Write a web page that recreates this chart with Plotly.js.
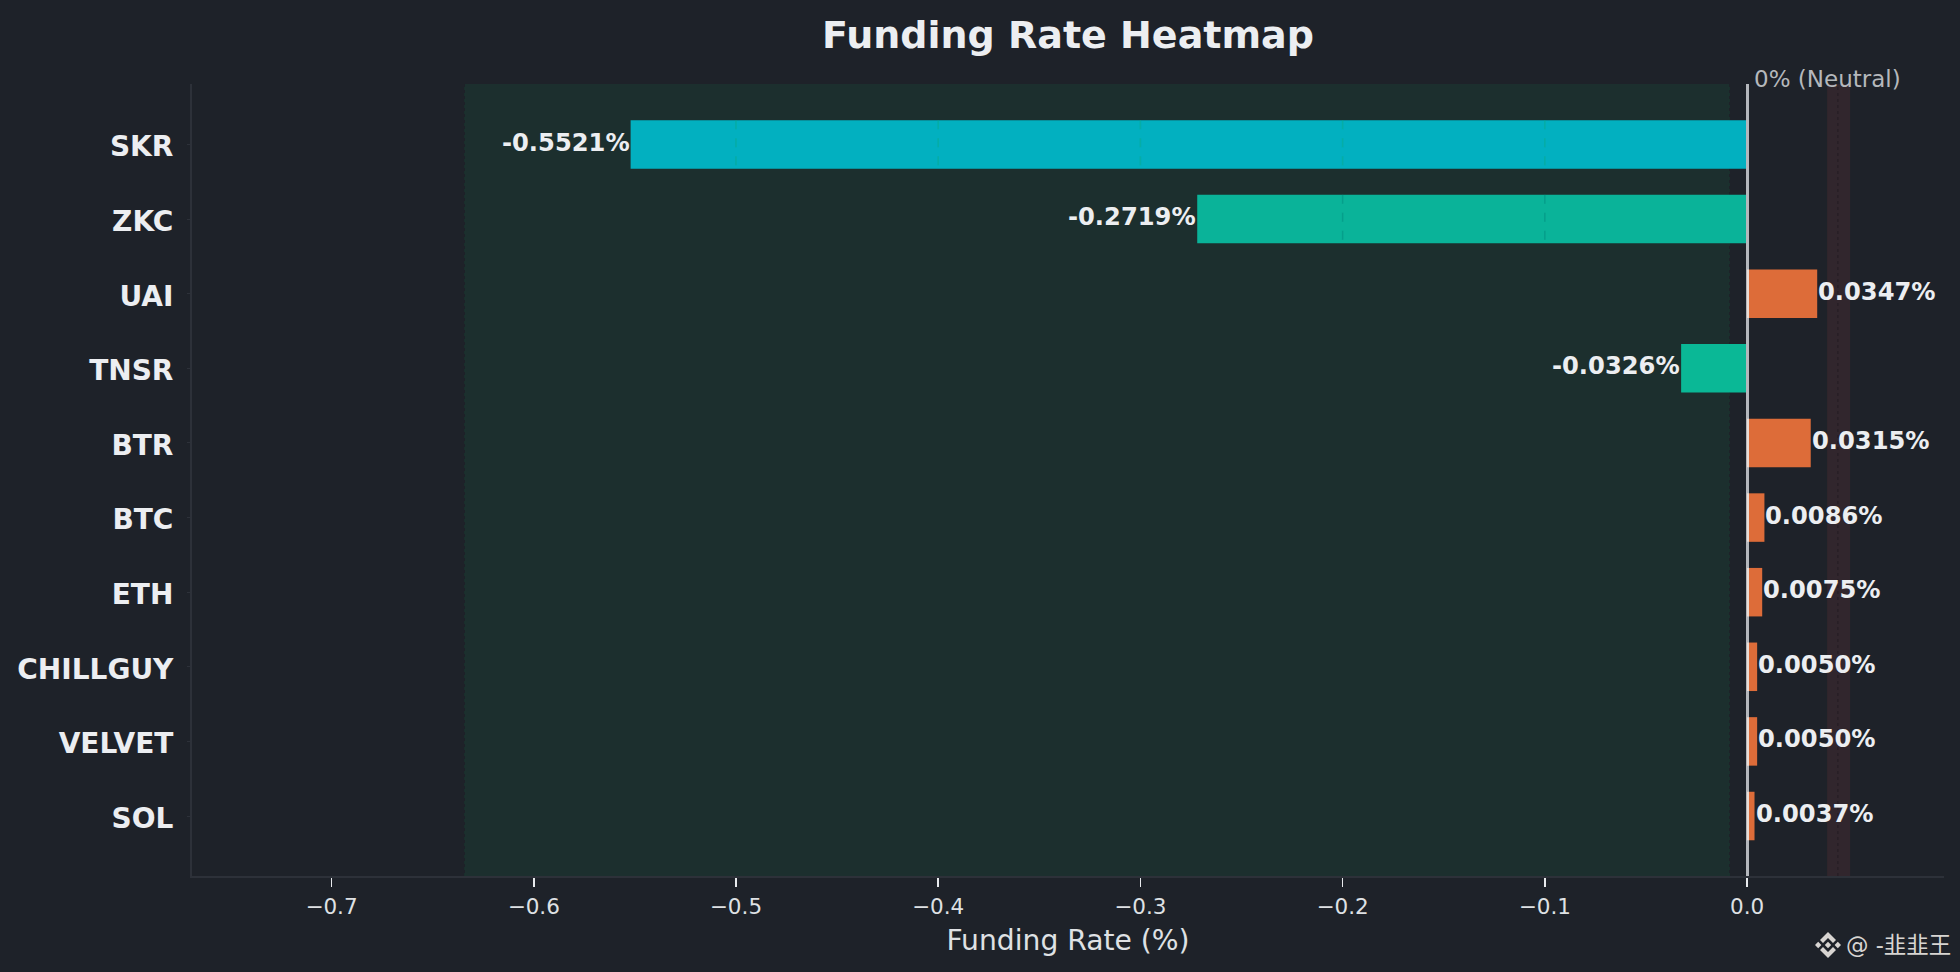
<!DOCTYPE html>
<html><head><meta charset="utf-8">
<script src="https://cdn.plot.ly/plotly-3.0.1.min.js"></script>
<style>html,body{margin:0;padding:0;background:#1e2229;overflow:hidden}</style>
</head><body><div id="chart" style="width:1960px;height:972px"></div>
<script>
const symbols = ['SKR','ZKC','UAI','TNSR','BTR','BTC','ETH','CHILLGUY','VELVET','SOL'];
const rates = [-0.5521,-0.2719,0.0347,-0.0326,0.0315,0.0086,0.0075,0.0050,0.0050,0.0037];
const barColors = ['#02b0c0','#0ab399','#dd6c39','#0ab896','#dd6c39','#dd6c39','#dd6c39','#dd6c39','#dd6c39','#dd6c39'];
const gridColors = ['rgba(10,170,140,0.5)','rgba(0,140,125,0.5)'];
const xTicks = [-0.7,-0.6,-0.5,-0.4,-0.3,-0.2,-0.1,0.0];
const xRange = [-0.769,0.0974];
const yRange = [9.804,-0.811];
const greenBand = [-0.634,-0.0089];
const redBand = [0.0396,0.0510];
const redLine = 0.0449;
const BAR = 0.65;
const FONT = '"DejaVu Sans", sans-serif';
const TEXT = '#eceef1';

const shapes = [
  {type:'rect',layer:'below',xref:'x',yref:'paper',x0:greenBand[0],x1:greenBand[1],y0:0,y1:1,fillcolor:'#1c2f2e',line:{width:0}},
  {type:'rect',layer:'below',xref:'x',yref:'paper',x0:redBand[0],x1:redBand[1],y0:0,y1:1,fillcolor:'#31262d',line:{width:0}},
  {type:'line',layer:'below',xref:'x',yref:'paper',x0:greenBand[0],x1:greenBand[0],y0:0,y1:1,line:{color:'#1b332f',width:1.5,dash:'dot'}},
  {type:'line',layer:'below',xref:'x',yref:'paper',x0:greenBand[1],x1:greenBand[1],y0:0,y1:1,line:{color:'#1b332f',width:1.5,dash:'dot'}},
  {type:'line',layer:'below',xref:'x',yref:'paper',x0:redLine,x1:redLine,y0:0,y1:1,line:{color:'#281f26',width:1.5,dash:'dot'}}
];
rates.forEach((v,i)=>{
  xTicks.forEach(t=>{
    if(t<0 && v<t){
      shapes.push({type:'line',layer:'above',xref:'x',yref:'y',x0:t,x1:t,y0:i-BAR/2,y1:i+BAR/2,
        line:{color:gridColors[i]||gridColors[1],width:1.5,dash:'dash'}});
    }
  });
});
shapes.push({type:'rect',layer:'above',xref:'paper',yref:'paper',xsizemode:'pixel',xanchor:(1747-192)/1752,x0:-1,x1:2,y0:0,y1:1,fillcolor:'#b4b7bc',line:{width:0}});
rates.forEach((v,i)=>{
  if(v>0) shapes.push({type:'rect',layer:'above',xref:'paper',yref:'y',xsizemode:'pixel',xanchor:(1747-192)/1752,x0:0,x1:2,y0:i-BAR/2,y1:i+BAR/2,fillcolor:'#e9dcd4',line:{width:0}});
});
shapes.push({type:'path',layer:'above',xref:'paper',yref:'paper',xsizemode:'pixel',ysizemode:'pixel',
  xanchor:(1828-192)/1752,yanchor:(876-945)/792,
  path:'M0,-3.2L3.2,0L0,3.2L-3.2,0Z M-13,0L-9.8,-3.2L-6.6,0L-9.8,3.2Z M13,0L9.8,-3.2L6.6,0L9.8,3.2Z M0,-13L8,-5L5,-2L0,-7L-5,-2L-8,-5Z M0,13L8,5L5,2L0,7L-5,2L-8,5Z',
  fillcolor:'#d8d5d2',line:{width:0}});

const annotations = rates.map((v,i)=>({
  x:v,y:symbols[i],xref:'x',yref:'y',showarrow:false,
  text:v.toFixed(4)+'%',
  xanchor:v<0?'right':'left',yanchor:'middle',
  xshift:v<0?1:-1,yshift:2,
  font:{family:FONT,size:24.2,color:TEXT,weight:700}
}));
annotations.push({x:0,y:1,xref:'x',yref:'paper',showarrow:false,text:'0% (Neutral)',
  xanchor:'left',yanchor:'middle',xshift:5,yshift:5,font:{family:FONT,size:23,color:'#b5b8bc'}});
annotations.push({x:(1844-192)/1752,y:(876-945)/792,xref:'paper',yref:'paper',showarrow:false,text:'@ -韭韭王',
  xanchor:'left',yanchor:'middle',font:{family:'"DejaVu Sans","Noto Sans CJK SC",sans-serif',size:22.5,color:'#d8d5d2'}});

const trace = {type:'bar',orientation:'h',x:rates,y:symbols,width:BAR,
  marker:{color:barColors,line:{width:0}},hoverinfo:'skip',cliponaxis:false};

const layout = {
  width:1960,height:972,autosize:false,
  paper_bgcolor:'#1e2229',plot_bgcolor:'#1e2229',
  margin:{l:192,r:16,t:84,b:96,pad:0},
  showlegend:false,hovermode:false,bargap:0.35,
  title:{text:'Funding Rate Heatmap',x:0.5,xref:'paper',y:1-35/972,yref:'container',xanchor:'center',yanchor:'middle',
    font:{family:FONT,size:38,color:TEXT,weight:700}},
  xaxis:{range:xRange,tickmode:'array',tickvals:xTicks,ticktext:xTicks.map(t=>t===0?'0.0':'\u2212'+Math.abs(t).toFixed(1)),
    showgrid:false,zeroline:false,showline:true,linecolor:'#2d3139',linewidth:2,
    ticks:'outside',ticklen:9,tickwidth:1.5,tickcolor:'#e8eaed',ticklabelstandoff:1,
    tickfont:{family:FONT,size:21.5,color:'#dfe1e4'},
    title:{text:'Funding Rate (%)',standoff:12,font:{family:FONT,size:28.2,color:'#dfe1e4'}},automargin:false},
  yaxis:{type:'category',categoryorder:'array',categoryarray:symbols,range:yRange,
    showgrid:false,zeroline:false,showline:true,linecolor:'#2d3139',linewidth:2,
    ticks:'outside',ticklen:3,tickwidth:1,tickcolor:'#2d3139',ticklabelstandoff:8,ticklabelshift:-2,
    tickfont:{family:FONT,size:28,color:TEXT,weight:700},automargin:false},
  shapes,annotations
};
Plotly.newPlot('chart',[trace],layout,{displayModeBar:false,staticPlot:true,responsive:false});
</script></body></html>
